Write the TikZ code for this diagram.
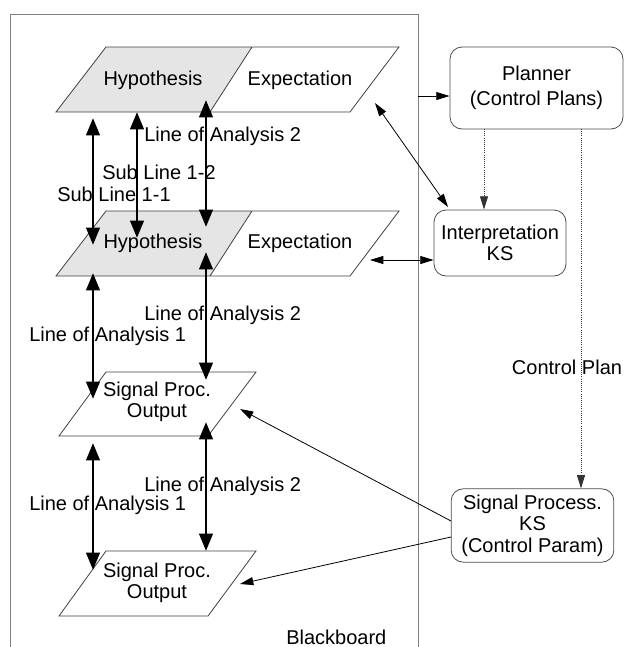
\documentclass[tikz,border=0pt]{standalone}
\usepackage{fontspec}
\setmainfont{Liberation Sans}
\usetikzlibrary{arrows.meta}

\begin{document}
\begin{tikzpicture}[x=0.75pt,y=0.75pt,yscale=-1,xscale=1,
    every node/.style={font=\fontsize{15}{16}\selectfont, inner sep=0.75pt, align=center},
    bold arrow/.style={line width=2.2pt, {Triangle[length=13pt,width=10pt]}-{Triangle[length=13pt,width=10pt]}},
    thin arrow/.style={line width=0.6pt, -{Triangle[length=10pt,width=6pt]}},
    ksbox/.style={draw=black!70, rounded corners=9pt, line width=0.6pt},
    plane/.style={draw=black!75, line width=0.6pt}]
        \useasboundingbox (0,0) rectangle (625,647);

        %Shape: Blackboard frame
        \draw [draw=black!50, line width=0.6pt] (10,665) -- (10,14) -- (418,14) -- (418,665) ;

        %Shape: Parallelogram (upper level)
        \fill [black!10] (106,47) -- (252,47) -- (210,112) -- (56,112) -- cycle ;
        \draw [plane] (106,47) -- (399,47) -- (350,112) -- (56,112) -- cycle (252,47) -- (210,112) ;
        %Shape: Parallelogram (middle level)
        \fill [black!10] (106,211) -- (252,211) -- (210,276) -- (56,276) -- cycle ;
        \draw [plane] (106,211) -- (399,211) -- (350,276) -- (56,276) -- cycle (252,211) -- (210,276) ;
        %Shape: Parallelogram (signal output 1)
        \draw [plane] (106,372) -- (256,372) -- (208,436) -- (59,436) -- cycle ;
        %Shape: Parallelogram (signal output 2)
        \draw [plane] (106,551) -- (256,551) -- (208,616) -- (59,616) -- cycle ;

        % Text Node
        \node (hyp1) at (153,80) {Hypothesis};
        % Text Node
        \node (exp1) at (300,80) {Expectation};
        % Text Node
        \node (hyp2) at (153,243) {Hypothesis};
        % Text Node
        \node (exp2) at (300,243) {Expectation};
        % Text Node
        \node (sig1) at (157,402) {Signal Proc.\\Output};
        % Text Node
        \node (sig2) at (157,583) {Signal Proc.\\Output};

        %Shape: Knowledge sources
        \node [ksbox, minimum width=129.75pt, minimum height=61.5pt] (plan) at (536.5,88) {Planner\\[3pt](Control Plans)};
        \node [ksbox, minimum width=99pt, minimum height=49.5pt] (interp) at (500,243) {Interpretation\\KS};
        \node [ksbox, minimum width=122pt, minimum height=55pt] (spks) at (532.5,525.5) {Signal Process.\\KS\\(Control Param)};

        % end points of the thick links
        \coordinate (a1) at (93,118);  \coordinate (b1) at (93,245);
        \coordinate (a2) at (137,112); \coordinate (b2) at (137,238);
        \coordinate (a3) at (206,100); \coordinate (b3) at (206,227);
        \coordinate (a4) at (93,273);  \coordinate (b4) at (93,399);
        \coordinate (a5) at (206,252); \coordinate (b5) at (206,380);
        \coordinate (a6) at (93,443);  \coordinate (b6) at (93,570);
        \coordinate (a7) at (206,422); \coordinate (b7) at (206,551);

        %Straight Lines: lines of analysis
        \draw [bold arrow] (a1) -- (b1) ;
        \draw [bold arrow] (a2) -- (b2) ;
        \draw [bold arrow] (a3) -- (b3) ;
        \draw [bold arrow] (a4) -- (b4) ;
        \draw [bold arrow] (a5) -- (b5) ;
        \draw [bold arrow] (a6) -- (b6) ;
        \draw [bold arrow] (a7) -- (b7) ;

        % Text Node
        \node [anchor=west] (la2a) at (143,136) {Line of Analysis 2};
        % Text Node
        \node [anchor=west] (sub12) at (101,172) {Sub Line 1-2};
        % Text Node
        \node [anchor=west] (sub11) at (56,194) {Sub Line 1-1};
        % Text Node
        \node [anchor=west] (la2b) at (143,315) {Line of Analysis 2};
        % Text Node
        \node [anchor=west] (la1b) at (28,336) {Line of Analysis 1};
        % Text Node
        \node [anchor=west] (la2c) at (143,486) {Line of Analysis 2};
        % Text Node
        \node [anchor=west] (la1c) at (28,505) {Line of Analysis 1};
        % Text Node
        \node [anchor=west] (board) at (285,637) {Blackboard};

        % end points of the thin links
        \coordinate (bbout) at (418,96);
        \coordinate (exptip1) at (375,103);
        \coordinate (inttip1) at (448,207);
        \coordinate (exptip2) at (370,260);
        \coordinate (plana) at (484,129);
        \coordinate (planb) at (581,129);
        \coordinate (sigtip1) at (240,409);
        \coordinate (sigtip2) at (240,584);
        \coordinate (ksa) at (451,521);
        \coordinate (ksb) at (451,537);

        %Straight Lines: control flow
        \draw [thin arrow] (bbout) -- (plan.west |- bbout) ;
        \draw [thin arrow, {Triangle[length=10pt,width=6pt]}-{Triangle[length=10pt,width=6pt]}] (exptip1) -- (inttip1) ;
        \draw [thin arrow, {Triangle[length=10pt,width=6pt]}-{Triangle[length=10pt,width=6pt]}] (exptip2) -- (interp.west |- exptip2) ;
        \draw [thin arrow, densely dotted, draw=black!80] (plana) -- (interp.north -| plana) ;
        \draw [thin arrow, densely dotted, draw=black!80] (planb) -- (spks.north -| planb) ;
        \draw [thin arrow] (ksa) -- (sigtip1) ;
        \draw [thin arrow] (ksb) -- (sigtip2) ;

        % Text Node
        \node (ctrl) at (567,367) {Control Plan};

    \end{tikzpicture}
\end{document}
